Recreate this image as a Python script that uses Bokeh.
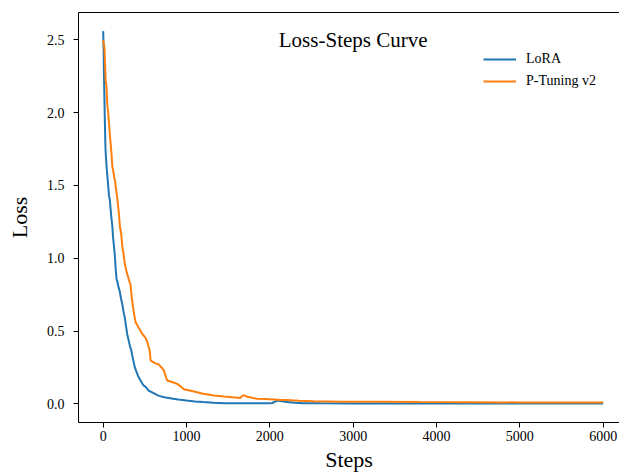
from bokeh.plotting import figure
from bokeh.models import (Range1d, FixedTicker, LinearAxis, Label, Legend, LegendItem,
                          CustomJSTickFormatter)
from bokeh.embed import file_html
from bokeh.resources import INLINE

# ---- data ----
lora_steps = [0, 5, 10, 15, 20, 28, 35, 45, 60, 70, 80, 95, 110, 118, 130, 140, 150, 160, 170,
              185, 200, 215, 228, 245, 260, 275, 288, 300, 320, 336, 350, 365, 380, 400, 420,
              448, 480, 520, 548, 600, 650, 700, 750, 820, 900, 1000, 1100, 1200, 1324, 1450,
              1600, 1800, 2000, 2030, 2060, 2100, 2150, 2200, 2300, 2400, 2600, 3000, 3500,
              4000, 4500, 5000, 5500, 6000]
lora_loss = [2.56, 2.45, 2.25, 2.10, 1.95, 1.75, 1.68, 1.60, 1.50, 1.43, 1.40, 1.30, 1.22, 1.15,
             1.08, 1.02, 0.93, 0.86, 0.84, 0.80, 0.77, 0.72, 0.69, 0.63, 0.59, 0.53, 0.48, 0.45,
             0.40, 0.37, 0.33, 0.29, 0.25, 0.22, 0.19, 0.16, 0.13, 0.11, 0.09, 0.075, 0.06, 0.05,
             0.043, 0.037, 0.030, 0.023, 0.017, 0.012, 0.007, 0.005, 0.004, 0.004, 0.004, 0.006,
             0.015, 0.022, 0.018, 0.012, 0.007, 0.005, 0.004, 0.003, 0.003, 0.002, 0.002, 0.002,
             0.002, 0.002]

ptv2_steps = [0, 8, 15, 20, 25, 30, 40, 50, 60, 70, 80, 88, 100, 110, 120, 135, 145, 155, 168,
              175, 190, 200, 216, 230, 245, 255, 268, 280, 300, 315, 328, 340, 348, 360, 376,
              390, 410, 428, 450, 470, 500, 528, 540, 548, 560, 568, 590, 620, 668, 700, 728,
              750, 768, 800, 850, 888, 930, 968, 1050, 1128, 1200, 1328, 1450, 1550, 1648, 1670,
              1690, 1720, 1800, 1848, 1950, 2050, 2128, 2200, 2350, 2528, 2850, 3328, 3800, 4400,
              5000, 5500, 6000]
ptv2_loss = [2.50, 2.47, 2.45, 2.38, 2.30, 2.22, 2.18, 2.05, 2.00, 1.93, 1.85, 1.80, 1.72, 1.63,
             1.60, 1.55, 1.52, 1.47, 1.42, 1.38, 1.30, 1.22, 1.17, 1.08, 1.03, 0.98, 0.94, 0.91,
             0.87, 0.84, 0.82, 0.75, 0.71, 0.66, 0.60, 0.56, 0.54, 0.52, 0.50, 0.48, 0.46, 0.43,
             0.40, 0.39, 0.36, 0.30, 0.29, 0.28, 0.27, 0.25, 0.23, 0.19, 0.16, 0.155, 0.145,
             0.137, 0.12, 0.10, 0.09, 0.08, 0.07, 0.057, 0.05, 0.045, 0.041, 0.055, 0.06, 0.05,
             0.04, 0.035, 0.033, 0.03, 0.027, 0.026, 0.021, 0.018, 0.015, 0.014, 0.012, 0.011,
             0.010, 0.009, 0.009]

x_ticks = [0, 1000, 2000, 3000, 4000, 5000, 6000]
y_ticks = [0.0, 0.5, 1.0, 1.5, 2.0, 2.5]
series_names = ["LoRA", "P-Tuning v2"]
title_text = "Loss-Steps Curve"
x_label = "Steps"
y_label = "Loss"

FONT = "Liberation Serif"
BLUE = "#1f77b4"
ORANGE = "#ff7f0e"

p = figure(width=619, height=474, output_backend="svg", toolbar_location=None,
           x_range=Range1d(-296, 6196), y_range=Range1d(-0.128, 2.688),
           min_border_left=78, min_border_right=0, min_border_top=12, min_border_bottom=52)
p.outline_line_color = None
p.xgrid.visible = False
p.ygrid.visible = False
p.background_fill_color = "white"
p.border_fill_color = "white"

r1 = p.line(lora_steps, lora_loss, line_color=BLUE, line_width=2)
r2 = p.line(ptv2_steps, ptv2_loss, line_color=ORANGE, line_width=2)

for ax in (p.xaxis[0], p.yaxis[0]):
    ax.axis_line_color = "black"
    ax.axis_line_width = 1
    ax.major_tick_line_color = "black"
    ax.major_tick_out = 5
    ax.major_tick_in = 0
    ax.minor_tick_line_color = None
    ax.major_label_text_font = FONT
    ax.major_label_text_font_size = "14px"
    ax.major_label_text_color = "black"
    ax.axis_label_text_font = FONT
    ax.axis_label_text_font_size = "22px"
    ax.axis_label_text_font_style = "normal"
    ax.axis_label_text_color = "black"

p.xaxis[0].ticker = FixedTicker(ticks=x_ticks)
p.yaxis[0].ticker = FixedTicker(ticks=y_ticks)
p.yaxis[0].formatter = CustomJSTickFormatter(code="return tick.toFixed(1);")
p.xaxis[0].axis_label = x_label
p.yaxis[0].axis_label = y_label
p.xaxis[0].major_label_standoff = 3
p.xaxis[0].axis_label_standoff = 3
p.yaxis[0].major_label_standoff = 9
p.yaxis[0].axis_label_standoff = 12

# top spine
top = LinearAxis(ticker=FixedTicker(ticks=[]), axis_line_color="black", axis_line_width=1,
                 major_tick_out=0, major_tick_in=0, minor_tick_line_color=None,
                 major_label_text_font_size="0px", major_label_standoff=0)
p.add_layout(top, "above")

# title inside the axes
p.add_layout(Label(x=3000, y=2.50, text=title_text, text_align="center",
                   text_baseline="alphabetic", text_font=FONT, text_font_size="21px",
                   text_color="black"))

legend = Legend(items=[LegendItem(label=series_names[0], renderers=[r1]),
                       LegendItem(label=series_names[1], renderers=[r2])],
                location=(405, 331), padding=0, margin=0, spacing=2,
                glyph_width=33, glyph_height=20, label_height=20, label_standoff=10,
                label_text_font=FONT, label_text_font_size="14px", label_text_color="black",
                background_fill_alpha=0, border_line_color=None)
p.add_layout(legend)

open("out.html", "w").write(file_html(p, INLINE))
